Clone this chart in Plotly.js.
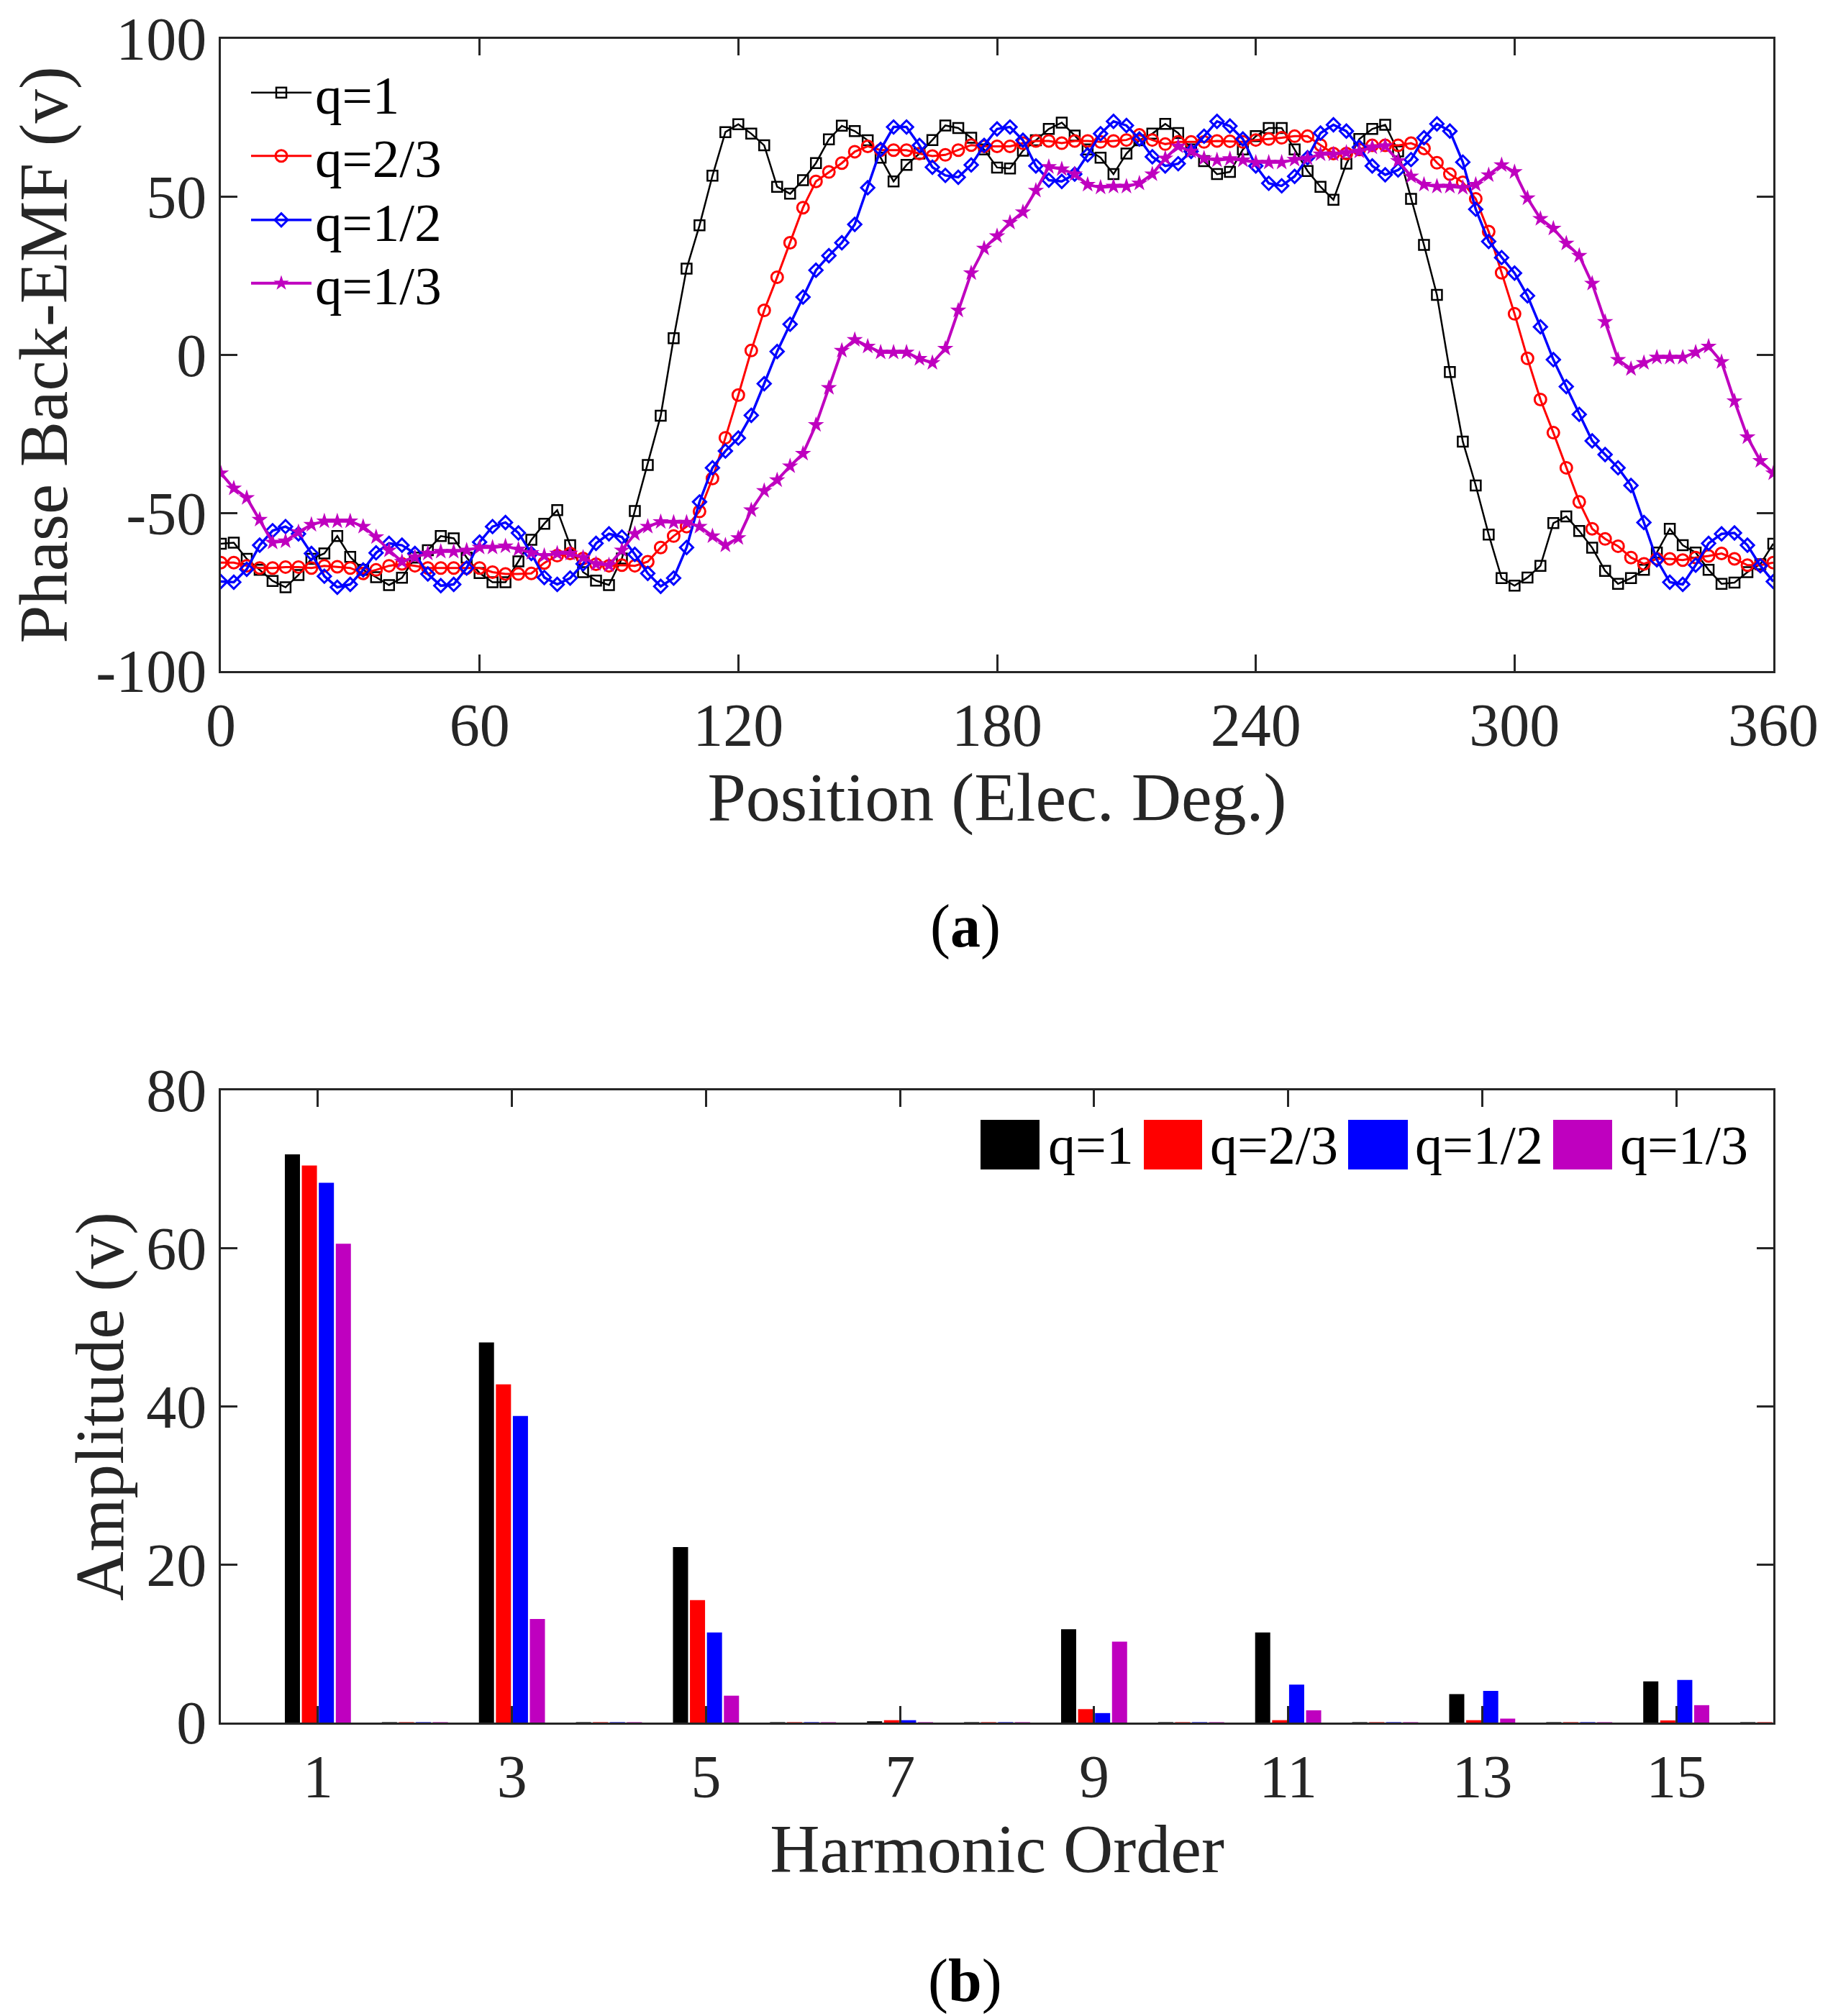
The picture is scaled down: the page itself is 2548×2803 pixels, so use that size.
<!DOCTYPE html>
<html><head><meta charset="utf-8">
<script src="https://cdn.plot.ly/plotly-3.0.1.min.js"></script>
<style>html,body{margin:0;padding:0;background:#fff}</style>
</head><body><div id="chart" style="width:2548px;height:2803px"></div>
<script>
// ---- Panel (a): phase back-EMF waveforms ----
const position = [0,3,6,9,12,15,18,21,24,27,30,33,36,39,42,45,48,51,54,57,60,63,66,69,72,75,78,81,84,87,90,93,96,99,102,105,108,111,114,117,120,123,126,129,132,135,138,141,144,147,150,153,156,159,162,165,168,171,174,177,180,183,186,189,192,195,198,201,204,207,210,213,216,219,222,225,228,231,234,237,240,243,246,249,252,255,258,261,264,267,270,273,276,279,282,285,288,291,294,297,300,303,306,309,312,315,318,321,324,327,330,333,336,339,342,345,348,351,354,357,360];
const emfQ1 = [-59.7,-59.4,-64.5,-68.0,-71.5,-73.5,-69.6,-64.5,-62.8,-57.3,-63.9,-68.0,-70.3,-72.8,-70.5,-64.1,-61.8,-57.3,-58.0,-64.1,-69.0,-71.9,-71.9,-65.3,-58.5,-53.4,-49.1,-60.2,-68.7,-71.4,-72.8,-64.4,-49.4,-34.8,-19.2,5.3,27.3,41.0,56.7,70.5,73.0,70.0,66.3,53.2,51.0,55.3,60.7,68.2,72.5,70.8,67.9,62.4,54.9,60.1,63.7,68.0,72.6,71.8,68.7,65.0,59.3,59.0,64.6,67.9,71.5,73.5,69.4,65.0,62.4,57.2,63.7,67.9,70.0,73.1,70.2,65.0,61.3,57.2,57.9,65.0,69.2,71.8,71.8,65.0,58.2,53.2,49.1,60.5,68.3,71.5,72.8,64.4,49.4,34.8,19.0,-5.4,-27.4,-41.3,-56.8,-70.6,-73.0,-70.4,-66.7,-53.2,-51.1,-55.7,-61.0,-68.3,-72.4,-70.6,-68.0,-62.5,-55.0,-60.2,-62.5,-68.0,-72.4,-72.0,-68.7,-66.2,-59.7];
const emfQ23 = [-65.7,-65.7,-66.7,-67.4,-67.4,-67.1,-67.1,-67.4,-66.7,-67.0,-67.4,-69.1,-68.0,-66.7,-66.1,-66.7,-67.4,-67.4,-67.4,-67.4,-67.4,-68.7,-69.3,-69.3,-69.1,-65.8,-63.5,-62.8,-64.4,-66.2,-66.7,-66.5,-66.7,-65.4,-60.9,-57.3,-54.3,-49.5,-39.1,-26.2,-12.7,1.4,14.1,24.6,35.5,46.6,54.9,57.9,60.7,64.3,66.0,64.8,64.8,64.8,63.7,62.9,63.3,64.8,66.4,66.0,66.0,66.0,67.0,67.7,67.7,67.0,67.7,67.7,67.4,67.7,68.0,69.6,68.0,66.7,67.4,67.4,67.4,67.7,67.6,67.4,68.0,68.3,68.7,69.2,69.2,66.4,63.7,63.7,65.0,66.3,66.3,66.3,67.0,65.3,60.8,57.2,54.6,49.4,39.0,26.0,13.0,-1.1,-14.1,-24.6,-35.7,-46.5,-55.0,-58.2,-60.5,-64.1,-66.1,-64.5,-64.5,-64.9,-64.1,-63.6,-62.8,-64.5,-66.5,-66.5,-65.7];
const emfQ12 = [-71.7,-71.9,-67.8,-60.2,-55.6,-54.3,-56.6,-62.8,-70.0,-73.5,-72.6,-68.0,-62.6,-59.6,-60.2,-62.8,-69.3,-73.0,-72.6,-67.4,-59.2,-54.3,-53.0,-56.3,-62.8,-70.4,-72.6,-70.6,-66.1,-59.6,-56.6,-57.6,-63.1,-69.1,-73.2,-70.6,-60.9,-46.5,-35.7,-30.4,-26.3,-19.1,-9.1,1.1,9.7,18.3,26.8,31.4,35.5,41.3,52.9,65.0,72.1,72.1,66.3,59.4,56.8,56.2,60.1,66.3,71.5,72.1,67.9,59.8,55.3,54.9,57.2,63.3,70.0,73.9,72.6,68.3,62.7,59.8,60.5,64.4,69.2,73.9,72.4,68.3,59.8,54.3,53.5,56.5,62.4,70.2,72.8,70.8,65.7,59.8,57.0,58.5,61.8,68.7,73.1,70.8,61.0,46.1,35.9,30.8,25.9,18.7,8.9,-1.5,-10.0,-18.8,-27.2,-31.5,-35.7,-41.3,-53.0,-64.8,-71.9,-72.6,-66.5,-59.6,-56.6,-56.3,-60.2,-66.7,-71.7];
const emfQ13 = [-37.4,-42.2,-45.2,-52.1,-59.3,-58.9,-56.0,-53.7,-52.6,-52.6,-52.6,-54.3,-57.6,-61.8,-65.4,-63.9,-62.8,-62.2,-62.2,-61.8,-60.9,-60.9,-60.5,-61.5,-62.6,-63.5,-62.8,-62.8,-64.1,-66.1,-66.5,-61.8,-56.6,-54.3,-52.8,-53.0,-53.0,-54.3,-57.3,-60.2,-57.9,-49.1,-43.0,-39.6,-35.2,-31.2,-22.1,-10.4,1.4,4.8,2.7,0.8,0.8,0.8,-1.2,-2.5,2.0,14.1,25.9,33.7,37.6,41.9,45.2,52.0,59.5,58.8,57.2,53.9,53.0,53.3,53.3,54.3,57.2,62.2,66.0,64.4,62.2,61.6,62.0,61.6,60.9,60.9,60.9,61.8,62.2,63.5,63.5,64.0,64.4,65.7,66.1,61.4,56.5,53.9,53.3,53.3,52.9,53.9,56.9,60.1,57.9,49.6,43.1,40.0,35.3,31.4,22.6,10.5,-1.5,-4.4,-2.5,-0.8,-0.8,-0.8,0.8,2.7,-2.2,-14.6,-26.0,-33.5,-37.4];
const posTicks = [0,60,120,180,240,300,360];
const emfTicks = [-100,-50,0,50,100];
const emfTickText = ['-100','-50','0','50','100'];

// ---- Panel (b): harmonic amplitudes ----
const harmonics = [1,2,3,4,5,6,7,8,9,10,11,12,13,14,15,16];
const ampQ1  = [71.9,0.05,48.1,0.05,22.2,0.05,0.16,0.05,11.8,0.05,11.4,0.05,3.6,0.05,5.2,0.05];
const ampQ23 = [70.5,0.05,42.8,0.05,15.5,0.05,0.3,0.05,1.7,0.05,0.3,0.05,0.3,0.05,0.27,0.05];
const ampQ12 = [68.3,0.05,38.8,0.05,11.4,0.05,0.3,0.05,1.2,0.05,4.8,0.05,4.0,0.05,5.4,0.05];
const ampQ13 = [60.6,0.05,13.1,0.05,3.4,0.05,0.05,0.05,10.25,0.05,1.55,0.05,0.5,0.05,2.2,0.05];
const harmTicks = [1,3,5,7,9,11,13,15];
const ampTicks = [0,20,40,60,80];

const seriesNames = ['q=1','q=2/3','q=1/2','q=1/3'];
const seriesColors = ['#000000','#FF0000','#0000FF','#BF00BF'];

const FONT = '"Liberation Serif","Times New Roman",Times,serif';
const AX = '#262626';

const traces = [
  {x: position, y: emfQ1, name: seriesNames[0], type:'scatter', mode:'lines+markers', xaxis:'x', yaxis:'y', legend:'legend',
   line:{color:seriesColors[0], width:2.5}, marker:{symbol:'square-open', size:14, color:seriesColors[0], line:{width:2.5}}},
  {x: position, y: emfQ23, name: seriesNames[1], type:'scatter', mode:'lines+markers', xaxis:'x', yaxis:'y', legend:'legend2',
   line:{color:seriesColors[1], width:3}, marker:{symbol:'circle-open', size:16, color:seriesColors[1], line:{width:3}}},
  {x: position, y: emfQ12, name: seriesNames[2], type:'scatter', mode:'lines+markers', xaxis:'x', yaxis:'y', legend:'legend3',
   line:{color:seriesColors[2], width:3.5}, marker:{symbol:'diamond-open', size:14, color:seriesColors[2], line:{width:3}}},
  {x: position, y: emfQ13, name: seriesNames[3], type:'scatter', mode:'lines+markers', xaxis:'x', yaxis:'y', legend:'legend4',
   line:{color:seriesColors[3], width:4}, marker:{symbol:'star', size:17, color:seriesColors[3], line:{width:0}}},
  {x: harmonics, y: ampQ1, name: seriesNames[0], type:'bar', xaxis:'x2', yaxis:'y2', marker:{color:seriesColors[0]}, showlegend:false},
  {x: harmonics, y: ampQ23, name: seriesNames[1], type:'bar', xaxis:'x2', yaxis:'y2', marker:{color:seriesColors[1]}, showlegend:false},
  {x: harmonics, y: ampQ12, name: seriesNames[2], type:'bar', xaxis:'x2', yaxis:'y2', marker:{color:seriesColors[2]}, showlegend:false},
  {x: harmonics, y: ampQ13, name: seriesNames[3], type:'bar', xaxis:'x2', yaxis:'y2', marker:{color:seriesColors[3]}, showlegend:false}
];

function axisBase(){
  return {showline:true, linewidth:3, linecolor:AX, mirror:'ticks', ticks:'inside', ticklen:23, tickwidth:3, tickcolor:AX,
          showgrid:false, zeroline:false, tickfont:{family:FONT, size:84, color:AX}};
}
const W = 2548, H = 2803;
const px = v => v / W;
const py = v => 1 - v / H;

const xa = Object.assign(axisBase(), {domain:[px(307), px(2465)], range:[0,360], tickvals:posTicks, anchor:'y',
  title:{text:'Position (Elec. Deg.)', font:{family:FONT, size:96, color:AX}, standoff:20}});
const ya = Object.assign(axisBase(), {domain:[py(933), py(54)], range:[-100,100], tickvals:emfTicks, ticktext:emfTickText, anchor:'x',
  title:{text:'Phase Back-EMF (v)', font:{family:FONT, size:95, color:AX}, standoff:8}});
const xa2 = Object.assign(axisBase(), {domain:[px(307), px(2465)], range:[0,16], tickvals:harmTicks, anchor:'y2',
  title:{text:'Harmonic Order', font:{family:FONT, size:96, color:AX}, standoff:20}});
const ya2 = Object.assign(axisBase(), {domain:[py(2395), py(1516)], range:[0,80], tickvals:ampTicks, anchor:'x2',
  title:{text:'Amplitude (v)', font:{family:FONT, size:95, color:AX}, standoff:0}});

// manual legend for the bar panel (large square swatches)
const swatchX = [[1363,1445],[1590,1671],[1874,1957],[2159,2241]];
const labelX = [1455,1680,1965,2250];
const shapes = swatchX.map((s,i)=>({type:'rect', xref:'paper', yref:'paper', x0:px(s[0]), x1:px(s[1]), y0:py(1626), y1:py(1557),
  fillcolor:seriesColors[i], line:{width:0}}));
const annotations = labelX.map((lx,i)=>({xref:'paper', yref:'paper', x:px(lx), y:py(1592), xanchor:'left', yanchor:'middle',
  text:seriesNames[i], showarrow:false, font:{family:FONT, size:76, color:'#000'}}));
annotations.push({xref:'paper', yref:'paper', x:px(1342), y:py(1288), xanchor:'center', yanchor:'middle', text:'(<b>a</b>)', showarrow:false, font:{family:FONT, size:84, color:'#000'}});
annotations.push({xref:'paper', yref:'paper', x:px(1342), y:py(2754), xanchor:'center', yanchor:'middle', text:'(<b>b</b>)', showarrow:false, font:{family:FONT, size:84, color:'#000'}});

function legendRow(yc){
  return {x:px(344), y:py(yc), xanchor:'left', yanchor:'middle', bgcolor:'rgba(0,0,0,0)', borderwidth:0,
          font:{family:FONT, size:75, color:'#000'}, itemwidth:84};
}

const layout = {
  width:W, height:H, margin:{l:0,r:0,t:0,b:0}, paper_bgcolor:'#fff', plot_bgcolor:'#fff',
  font:{family:FONT, color:'#000'},
  xaxis:xa, yaxis:ya, xaxis2:xa2, yaxis2:ya2,
  barmode:'group', bargap:0.3, bargroupgap:0.11,
  showlegend:true,
  legend:legendRow(129), legend2:legendRow(217), legend3:legendRow(306), legend4:legendRow(394),
  shapes:shapes, annotations:annotations
};
Plotly.newPlot('chart', traces, layout, {staticPlot:true, displayModeBar:false});
</script></body></html>
